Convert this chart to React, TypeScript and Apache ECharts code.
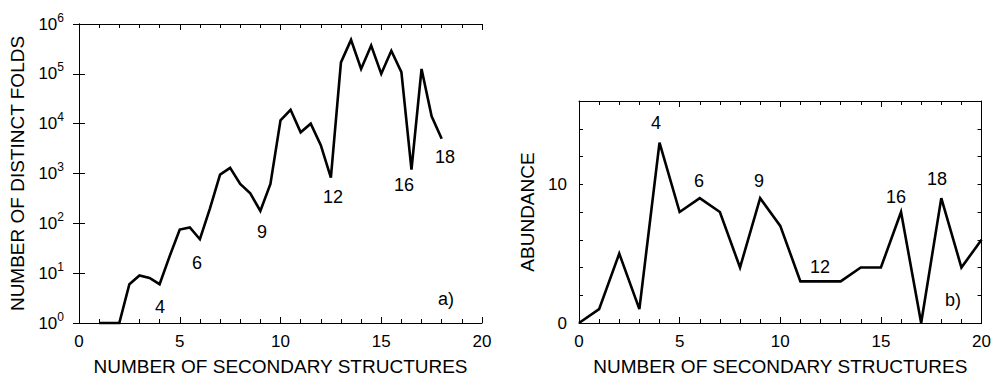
import React, { useEffect, useRef } from "react";
import * as echarts from "echarts";

// Panel a) : number of distinct folds vs number of secondary structures (log scale)
const foldsX = [1, 1.5, 2, 2.5, 3, 3.5, 4, 4.5, 5, 5.5, 6, 6.5, 7, 7.5, 8, 8.5, 9, 9.5, 10, 10.5, 11, 11.5, 12, 12.5, 13, 13.5, 14, 14.5, 15, 15.5, 16, 16.5, 17, 17.5, 18];
const foldsY = [1, 1, 1, 6, 9, 8, 6, 22, 75, 83, 48, 200, 950, 1300, 620, 400, 177, 620, 11700, 19000, 6700, 10000, 3700, 830, 170000, 480000, 125000, 370000, 100000, 290000, 108000, 1200, 125000, 14000, 5000];

// Panel b) : abundance vs number of secondary structures
const abundX = [0, 1, 2, 3, 4, 5, 6, 7, 8, 9, 10, 11, 12, 13, 14, 15, 16, 17, 18, 19, 20];
const abundY = [0, 1, 5, 1, 13, 8, 9, 8, 4, 9, 7, 3, 3, 3, 4, 4, 8, 0, 9, 4, 6];

const xTitle = "NUMBER OF SECONDARY STRUCTURES";
const yTitleA = "NUMBER OF DISTINCT FOLDS";
const yTitleB = "ABUNDANCE";

const FONT = "'Liberation Sans', Arial, Helvetica, sans-serif";

export default function App() {
  const ref = useRef<HTMLDivElement>(null);
  useEffect(() => {
    if (!ref.current) return;
    const chart = echarts.init(ref.current, undefined, { renderer: "svg" });
    const black = "#000";
    const lineStyle = { color: black, width: 1 };
    const xCommon = (grid: number, pos: "bottom" | "top") => ({
      gridIndex: grid,
      type: "value",
      position: pos,
      min: 0,
      max: 20,
      interval: 5,
      axisLine: { show: true, onZero: false, lineStyle },
      axisTick: { show: true, inside: true, length: 6, lineStyle },
      minorTick: { show: true, splitNumber: 5, length: 4, lineStyle },
      splitLine: { show: false },
      minorSplitLine: { show: false },
      axisLabel:
        pos === "bottom"
          ? { show: true, color: black, fontSize: 17, fontFamily: FONT, margin: 10 }
          : { show: false },
      name: pos === "bottom" ? xTitle : "",
      nameLocation: "middle",
      nameGap: 34,
      nameTextStyle: { color: black, fontSize: 19, fontFamily: FONT },
    });

    const option: any = {
      animation: false,
      backgroundColor: "#fff",
      textStyle: { fontFamily: FONT },
      grid: [
        { left: 79, top: 24, width: 403, height: 307 },
        { left: 579, top: 101, width: 403, height: 230 },
      ],
      xAxis: [xCommon(0, "bottom"), xCommon(0, "top"), xCommon(1, "bottom"), xCommon(1, "top")],
      yAxis: [
        {
          gridIndex: 0,
          type: "log",
          logBase: 10,
          min: 1,
          max: 1e6,
          interval: 1,
          splitNumber: 6,
          position: "left",
          axisLine: { show: true, lineStyle },
          axisTick: { show: true, inside: true, length: 6, lineStyle },
          splitLine: { show: false },
          axisLabel: {
            show: true,
            margin: 15,
            formatter: (v: number) => `{b|10}{e|${Math.round(Math.log10(v))}}`,
            rich: {
              b: { fontSize: 17, lineHeight: 25, color: black, fontFamily: FONT, verticalAlign: "middle" },
              e: { fontSize: 12, lineHeight: 12, color: black, fontFamily: FONT, verticalAlign: "top" },
            },
          },
          name: yTitleA,
          nameLocation: "middle",
          nameGap: 52,
          nameTextStyle: { color: black, fontSize: 19, fontFamily: FONT },
        },
        {
          gridIndex: 0,
          type: "log",
          logBase: 10,
          min: 1,
          max: 1e6,
          interval: 1,
          splitNumber: 6,
          position: "right",
          axisLine: { show: true, lineStyle },
          axisTick: { show: true, inside: true, length: 6, lineStyle },
          splitLine: { show: false },
          axisLabel: { show: false },
        },
        {
          gridIndex: 1,
          type: "value",
          min: 0,
          max: 16,
          interval: 2,
          position: "left",
          axisLine: { show: true, onZero: false, lineStyle },
          axisTick: { show: true, inside: true, length: 4, lineStyle },
          splitLine: { show: false },
          axisLabel: {
            show: true,
            color: black,
            fontSize: 17,
            fontFamily: FONT,
            margin: 12,
            showMaxLabel: false,
            formatter: (v: number) => (v % 10 === 0 ? String(v) : ""),
          },
          name: yTitleB,
          nameLocation: "middle",
          nameGap: 42,
          nameTextStyle: { color: black, fontSize: 19, fontFamily: FONT },
        },
        {
          gridIndex: 1,
          type: "value",
          min: 0,
          max: 16,
          interval: 2,
          position: "right",
          axisLine: { show: true, onZero: false, lineStyle },
          axisTick: { show: true, inside: true, length: 4, lineStyle },
          splitLine: { show: false },
          axisLabel: { show: false },
        },
      ],
      series: [
        {
          type: "line",
          xAxisIndex: 0,
          yAxisIndex: 0,
          data: foldsX.map((x, i) => [x, foldsY[i]]),
          showSymbol: false,
          symbol: "none",
          clip: false,
          lineStyle: { color: black, width: 2.6, join: "miter" },
        },
        {
          type: "line",
          xAxisIndex: 2,
          yAxisIndex: 2,
          data: abundX.map((x, i) => [x, abundY[i]]),
          showSymbol: false,
          symbol: "none",
          clip: false,
          lineStyle: { color: black, width: 2.6, join: "miter" },
        },
      ],
      graphic: [
        ["4", 160, 307],
        ["6", 197, 263],
        ["9", 262, 232],
        ["12", 333, 197],
        ["16", 404, 185],
        ["18", 445, 157],
        ["a)", 446, 299],
        ["4", 656, 123],
        ["6", 699, 181],
        ["9", 759, 181],
        ["12", 820, 267],
        ["16", 896, 197],
        ["18", 937, 179],
        ["b)", 953, 300],
      ].map(([t, x, y]) => ({
        type: "text",
        x: x as number,
        y: y as number,
        style: {
          text: t as string,
          fill: black,
          fontSize: 18,
          fontFamily: FONT,
          textAlign: "center",
          textVerticalAlign: "middle",
        },
      })),
    };
    chart.setOption(option);
    return () => chart.dispose();
  }, []);
  return (
    <div
      ref={ref}
      style={{ position: "fixed", left: 0, top: 0, width: 994, height: 381, background: "#fff" }}
    />
  );
}
